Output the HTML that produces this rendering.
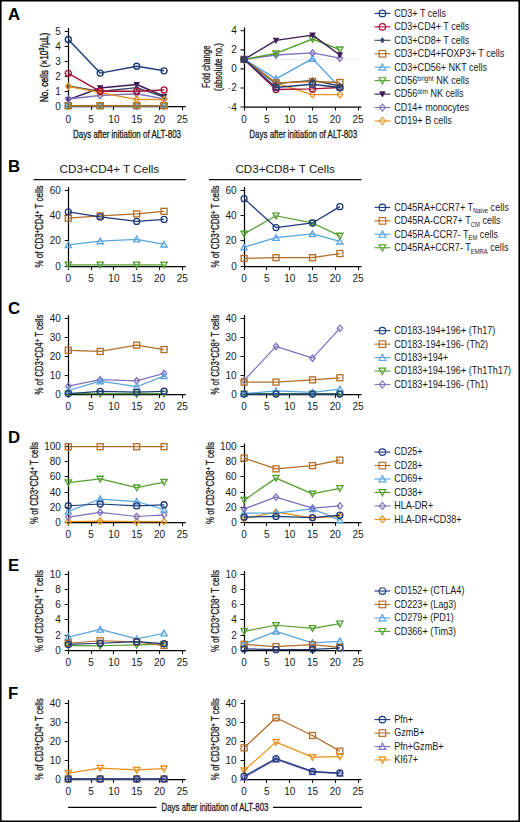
<!DOCTYPE html><html><head><meta charset="utf-8"><style>html,body{margin:0;padding:0;background:#fff;}svg{display:block;}</style></head><body>
<svg width="520" height="822" viewBox="0 0 520 822" font-family='"Liberation Sans", sans-serif'>
<rect width="520" height="822" fill="#fff"/>
<path d="M0 0H520V1.5H0ZM0 0H1.6V822H0ZM518.4 0H520V822H518.4ZM0 820.5H520V822H0Z" fill="#000"/>
<text x="8.00" y="20.40" font-size="16.8" font-weight="bold" fill="#000">A</text>
<text x="8.00" y="171.50" font-size="16.8" font-weight="bold" fill="#000">B</text>
<text x="8.00" y="314.20" font-size="16.8" font-weight="bold" fill="#000">C</text>
<text x="8.00" y="442.50" font-size="16.8" font-weight="bold" fill="#000">D</text>
<text x="8.00" y="570.80" font-size="16.8" font-weight="bold" fill="#000">E</text>
<text x="8.00" y="699.10" font-size="16.8" font-weight="bold" fill="#000">F</text>
<path d="M68.50 28.00V106.50H185.70" fill="none" stroke="#000" stroke-width="1.25"/>
<text x="60.90" y="110.00" font-size="10" text-anchor="end" fill="#1a1a1a">0</text>
<text x="60.90" y="94.94" font-size="10" text-anchor="end" fill="#1a1a1a">1</text>
<text x="60.90" y="79.88" font-size="10" text-anchor="end" fill="#1a1a1a">2</text>
<text x="60.90" y="64.82" font-size="10" text-anchor="end" fill="#1a1a1a">3</text>
<text x="60.90" y="49.76" font-size="10" text-anchor="end" fill="#1a1a1a">4</text>
<text x="60.90" y="34.70" font-size="10" text-anchor="end" fill="#1a1a1a">5</text>
<text x="68.30" y="122.50" font-size="10" text-anchor="middle" fill="#1a1a1a">0</text>
<text x="91.10" y="122.50" font-size="10" text-anchor="middle" fill="#1a1a1a">5</text>
<text x="113.90" y="122.50" font-size="10" text-anchor="middle" fill="#1a1a1a">10</text>
<text x="136.70" y="122.50" font-size="10" text-anchor="middle" fill="#1a1a1a">15</text>
<text x="159.50" y="122.50" font-size="10" text-anchor="middle" fill="#1a1a1a">20</text>
<text x="182.30" y="122.50" font-size="10" text-anchor="middle" fill="#1a1a1a">25</text>
<path d="M64.70 106.50H68.50M64.70 91.50H68.50M64.70 76.50H68.50M64.70 61.50H68.50M64.70 46.50H68.50M64.70 31.50H68.50M68.50 106.50V110.10M91.50 106.50V110.10M113.50 106.50V110.10M136.50 106.50V110.10M159.50 106.50V110.10M182.50 106.50V110.10" fill="none" stroke="#111" stroke-width="1.1"/>
<path d="M68.30 105.75L100.22 105.75L136.70 105.75L164.06 105.75" fill="none" stroke="#52a02e" stroke-width="1.4" stroke-linejoin="round"/>
<path d="M68.30 108.85L71.45 103.11L65.15 103.11Z" fill="none" stroke="#52a02e" stroke-width="1.35"/>
<path d="M100.22 108.85L103.37 103.11L97.07 103.11Z" fill="none" stroke="#52a02e" stroke-width="1.35"/>
<path d="M136.70 108.85L139.85 103.11L133.55 103.11Z" fill="none" stroke="#52a02e" stroke-width="1.35"/>
<path d="M164.06 108.85L167.21 103.11L160.91 103.11Z" fill="none" stroke="#52a02e" stroke-width="1.35"/>
<path d="M68.30 105.75L100.22 105.75L136.70 105.75L164.06 105.75" fill="none" stroke="#58a4e0" stroke-width="1.4" stroke-linejoin="round"/>
<path d="M68.30 102.65L71.45 108.38L65.15 108.38Z" fill="none" stroke="#58a4e0" stroke-width="1.35" stroke-linejoin="miter"/>
<path d="M100.22 102.65L103.37 108.38L97.07 108.38Z" fill="none" stroke="#58a4e0" stroke-width="1.35" stroke-linejoin="miter"/>
<path d="M136.70 102.65L139.85 108.38L133.55 108.38Z" fill="none" stroke="#58a4e0" stroke-width="1.35" stroke-linejoin="miter"/>
<path d="M164.06 102.65L167.21 108.38L160.91 108.38Z" fill="none" stroke="#58a4e0" stroke-width="1.35" stroke-linejoin="miter"/>
<path d="M68.30 105.75L100.22 105.75L136.70 105.75L164.06 105.75" fill="none" stroke="#b36d26" stroke-width="1.4" stroke-linejoin="round"/>
<rect x="65.30" y="102.75" width="6.00" height="6.00" fill="none" stroke="#b36d26" stroke-width="1.35"/>
<rect x="97.22" y="102.75" width="6.00" height="6.00" fill="none" stroke="#b36d26" stroke-width="1.35"/>
<rect x="133.70" y="102.75" width="6.00" height="6.00" fill="none" stroke="#b36d26" stroke-width="1.35"/>
<rect x="161.06" y="102.75" width="6.00" height="6.00" fill="none" stroke="#b36d26" stroke-width="1.35"/>
<path d="M68.30 99.57L100.22 87.98L136.70 84.51L164.06 96.26" fill="none" stroke="#3f1858" stroke-width="1.4" stroke-linejoin="round"/>
<path d="M68.30 102.17L70.70 97.49L65.90 97.49Z" fill="#3f1858" stroke="#3f1858" stroke-width="1.08"/>
<path d="M100.22 90.58L102.62 85.90L97.82 85.90Z" fill="#3f1858" stroke="#3f1858" stroke-width="1.08"/>
<path d="M136.70 87.11L139.10 82.43L134.30 82.43Z" fill="#3f1858" stroke="#3f1858" stroke-width="1.08"/>
<path d="M164.06 98.86L166.46 94.18L161.66 94.18Z" fill="#3f1858" stroke="#3f1858" stroke-width="1.08"/>
<path d="M68.30 98.97L100.22 95.51L136.70 93.70L164.06 98.82" fill="none" stroke="#7f72bf" stroke-width="1.4" stroke-linejoin="round"/>
<path d="M68.30 95.77L71.00 98.97L68.30 102.17L65.60 98.97Z" fill="none" stroke="#7f72bf" stroke-width="1.35"/>
<path d="M100.22 92.31L102.92 95.51L100.22 98.71L97.52 95.51Z" fill="none" stroke="#7f72bf" stroke-width="1.35"/>
<path d="M136.70 90.50L139.40 93.70L136.70 96.90L134.00 93.70Z" fill="none" stroke="#7f72bf" stroke-width="1.35"/>
<path d="M164.06 95.62L166.76 98.82L164.06 102.02L161.36 98.82Z" fill="none" stroke="#7f72bf" stroke-width="1.35"/>
<path d="M68.30 86.02L100.22 91.44L136.70 87.67L164.06 97.16" fill="none" stroke="#36445f" stroke-width="1.4" stroke-linejoin="round"/>
<path d="M68.30 83.62L70.00 86.02L68.30 88.42L66.60 86.02Z" fill="#36445f" stroke="#36445f" stroke-width="1.08"/>
<path d="M100.22 89.04L101.92 91.44L100.22 93.84L98.52 91.44Z" fill="#36445f" stroke="#36445f" stroke-width="1.08"/>
<path d="M136.70 85.27L138.40 87.67L136.70 90.08L135.00 87.67Z" fill="#36445f" stroke="#36445f" stroke-width="1.08"/>
<path d="M164.06 94.76L165.76 97.16L164.06 99.56L162.36 97.16Z" fill="#36445f" stroke="#36445f" stroke-width="1.08"/>
<path d="M68.30 86.32L100.22 92.49L136.70 99.57L164.06 99.57" fill="none" stroke="#e8921a" stroke-width="1.4" stroke-linejoin="round"/>
<path d="M68.30 83.12L71.00 86.32L68.30 89.52L65.60 86.32Z" fill="none" stroke="#e8921a" stroke-width="1.35"/>
<path d="M100.22 89.29L102.92 92.49L100.22 95.69L97.52 92.49Z" fill="none" stroke="#e8921a" stroke-width="1.35"/>
<path d="M136.70 96.37L139.40 99.57L136.70 102.77L134.00 99.57Z" fill="none" stroke="#e8921a" stroke-width="1.35"/>
<path d="M164.06 96.37L166.76 99.57L164.06 102.77L161.36 99.57Z" fill="none" stroke="#e8921a" stroke-width="1.35"/>
<path d="M68.30 73.37L100.22 91.29L136.70 91.29L164.06 89.93" fill="none" stroke="#aa0f36" stroke-width="1.4" stroke-linejoin="round"/>
<circle cx="68.30" cy="73.37" r="3.00" fill="none" stroke="#aa0f36" stroke-width="1.35"/>
<circle cx="100.22" cy="91.29" r="3.00" fill="none" stroke="#aa0f36" stroke-width="1.35"/>
<circle cx="136.70" cy="91.29" r="3.00" fill="none" stroke="#aa0f36" stroke-width="1.35"/>
<circle cx="164.06" cy="89.93" r="3.00" fill="none" stroke="#aa0f36" stroke-width="1.35"/>
<path d="M68.30 39.48L100.22 73.07L136.70 66.29L164.06 70.81" fill="none" stroke="#1d3b7c" stroke-width="1.4" stroke-linejoin="round"/>
<circle cx="68.30" cy="39.48" r="3.00" fill="none" stroke="#1d3b7c" stroke-width="1.35"/>
<circle cx="100.22" cy="73.07" r="3.00" fill="none" stroke="#1d3b7c" stroke-width="1.35"/>
<circle cx="136.70" cy="66.29" r="3.00" fill="none" stroke="#1d3b7c" stroke-width="1.35"/>
<circle cx="164.06" cy="70.81" r="3.00" fill="none" stroke="#1d3b7c" stroke-width="1.35"/>
<text transform="translate(48.10,67.50) rotate(-90) scale(0.7831,1)" x="0" y="0" font-size="10.8" text-anchor="middle" stroke="#1a1a1a" stroke-width="0.45" fill="#1a1a1a">No. cells (×10<tspan dy="-3.8" font-size="7">3</tspan><tspan dy="3.8">/µL)</tspan></text>
<text x="73.00" y="138.00" font-size="11.2" textLength="108" lengthAdjust="spacingAndGlyphs" fill="#1a1a1a" stroke="#1a1a1a" stroke-width="0.3">Days after initiation of ALT-803</text>
<path d="M250 59.5H359" stroke="#c8c8c8" stroke-width="0.9" stroke-dasharray="0.9 1.6"/>
<path d="M244.50 27.60V107.00H361.50" fill="none" stroke="#000" stroke-width="1.25"/>
<text x="236.70" y="110.50" font-size="10" text-anchor="end" fill="#1a1a1a"><tspan font-size="7" dy="-1.3">-</tspan><tspan dx="0.5" dy="1.3">4</tspan></text>
<text x="236.70" y="91.45" font-size="10" text-anchor="end" fill="#1a1a1a"><tspan font-size="7" dy="-1.3">-</tspan><tspan dx="0.5" dy="1.3">2</tspan></text>
<text x="236.70" y="72.40" font-size="10" text-anchor="end" fill="#1a1a1a">0</text>
<text x="236.70" y="53.35" font-size="10" text-anchor="end" fill="#1a1a1a">2</text>
<text x="236.70" y="34.30" font-size="10" text-anchor="end" fill="#1a1a1a">4</text>
<text x="244.10" y="123.00" font-size="10" text-anchor="middle" fill="#1a1a1a">0</text>
<text x="266.90" y="123.00" font-size="10" text-anchor="middle" fill="#1a1a1a">5</text>
<text x="289.70" y="123.00" font-size="10" text-anchor="middle" fill="#1a1a1a">10</text>
<text x="312.50" y="123.00" font-size="10" text-anchor="middle" fill="#1a1a1a">15</text>
<text x="335.30" y="123.00" font-size="10" text-anchor="middle" fill="#1a1a1a">20</text>
<text x="358.10" y="123.00" font-size="10" text-anchor="middle" fill="#1a1a1a">25</text>
<path d="M240.50 107.00H244.50M240.50 87.95H244.50M240.50 68.90H244.50M240.50 49.85H244.50M240.50 30.80H244.50M244.50 107.00V110.60M266.50 107.00V110.60M289.50 107.00V110.60M312.50 107.00V110.60M335.50 107.00V110.60M358.50 107.00V110.60" fill="none" stroke="#111" stroke-width="1.1"/>
<path d="M244.10 59.38L276.02 83.19L312.50 94.62L339.86 94.62" fill="none" stroke="#e8921a" stroke-width="1.4" stroke-linejoin="round"/>
<path d="M244.10 56.17L246.80 59.38L244.10 62.58L241.40 59.38Z" fill="none" stroke="#e8921a" stroke-width="1.35"/>
<path d="M276.02 79.99L278.72 83.19L276.02 86.39L273.32 83.19Z" fill="none" stroke="#e8921a" stroke-width="1.35"/>
<path d="M312.50 91.42L315.20 94.62L312.50 97.82L309.80 94.62Z" fill="none" stroke="#e8921a" stroke-width="1.35"/>
<path d="M339.86 91.42L342.56 94.62L339.86 97.82L337.16 94.62Z" fill="none" stroke="#e8921a" stroke-width="1.35"/>
<path d="M244.10 59.38L276.02 78.90L312.50 58.61L339.86 87.47" fill="none" stroke="#58a4e0" stroke-width="1.4" stroke-linejoin="round"/>
<path d="M244.10 56.27L247.25 62.01L240.95 62.01Z" fill="none" stroke="#58a4e0" stroke-width="1.35" stroke-linejoin="miter"/>
<path d="M276.02 75.80L279.17 81.54L272.87 81.54Z" fill="none" stroke="#58a4e0" stroke-width="1.35" stroke-linejoin="miter"/>
<path d="M312.50 55.51L315.65 61.25L309.35 61.25Z" fill="none" stroke="#58a4e0" stroke-width="1.35" stroke-linejoin="miter"/>
<path d="M339.86 84.37L343.01 90.11L336.71 90.11Z" fill="none" stroke="#58a4e0" stroke-width="1.35" stroke-linejoin="miter"/>
<path d="M244.10 59.38L276.02 54.99L312.50 52.90L339.86 58.14" fill="none" stroke="#7f72bf" stroke-width="1.4" stroke-linejoin="round"/>
<path d="M244.10 56.17L246.80 59.38L244.10 62.58L241.40 59.38Z" fill="none" stroke="#7f72bf" stroke-width="1.35"/>
<path d="M276.02 51.79L278.72 54.99L276.02 58.19L273.32 54.99Z" fill="none" stroke="#7f72bf" stroke-width="1.35"/>
<path d="M312.50 49.70L315.20 52.90L312.50 56.10L309.80 52.90Z" fill="none" stroke="#7f72bf" stroke-width="1.35"/>
<path d="M339.86 54.94L342.56 58.14L339.86 61.34L337.16 58.14Z" fill="none" stroke="#7f72bf" stroke-width="1.35"/>
<path d="M244.10 59.38L276.02 53.47L312.50 38.99L339.86 49.66" fill="none" stroke="#52a02e" stroke-width="1.4" stroke-linejoin="round"/>
<path d="M244.10 62.48L247.25 56.74L240.95 56.74Z" fill="none" stroke="#52a02e" stroke-width="1.35"/>
<path d="M276.02 56.57L279.17 50.83L272.87 50.83Z" fill="none" stroke="#52a02e" stroke-width="1.35"/>
<path d="M312.50 42.09L315.65 36.36L309.35 36.36Z" fill="none" stroke="#52a02e" stroke-width="1.35"/>
<path d="M339.86 52.76L343.01 47.02L336.71 47.02Z" fill="none" stroke="#52a02e" stroke-width="1.35"/>
<path d="M244.10 59.38L276.02 40.33L312.50 35.09L339.86 54.99" fill="none" stroke="#3f1858" stroke-width="1.4" stroke-linejoin="round"/>
<path d="M244.10 61.98L246.50 57.30L241.70 57.30Z" fill="#3f1858" stroke="#3f1858" stroke-width="1.08"/>
<path d="M276.02 42.93L278.42 38.25L273.62 38.25Z" fill="#3f1858" stroke="#3f1858" stroke-width="1.08"/>
<path d="M312.50 37.69L314.90 33.01L310.10 33.01Z" fill="#3f1858" stroke="#3f1858" stroke-width="1.08"/>
<path d="M339.86 57.59L342.26 52.91L337.46 52.91Z" fill="#3f1858" stroke="#3f1858" stroke-width="1.08"/>
<path d="M244.10 59.38L276.02 83.66L312.50 80.33L339.86 86.05" fill="none" stroke="#36445f" stroke-width="1.4" stroke-linejoin="round"/>
<path d="M244.10 56.98L245.80 59.38L244.10 61.77L242.40 59.38Z" fill="#36445f" stroke="#36445f" stroke-width="1.08"/>
<path d="M276.02 81.26L277.72 83.66L276.02 86.06L274.32 83.66Z" fill="#36445f" stroke="#36445f" stroke-width="1.08"/>
<path d="M312.50 77.93L314.20 80.33L312.50 82.73L310.80 80.33Z" fill="#36445f" stroke="#36445f" stroke-width="1.08"/>
<path d="M339.86 83.64L341.56 86.05L339.86 88.45L338.16 86.05Z" fill="#36445f" stroke="#36445f" stroke-width="1.08"/>
<path d="M244.10 59.38L276.02 89.57L312.50 88.90L339.86 87.47" fill="none" stroke="#aa0f36" stroke-width="1.4" stroke-linejoin="round"/>
<circle cx="244.10" cy="59.38" r="3.00" fill="none" stroke="#aa0f36" stroke-width="1.35"/>
<circle cx="276.02" cy="89.57" r="3.00" fill="none" stroke="#aa0f36" stroke-width="1.35"/>
<circle cx="312.50" cy="88.90" r="3.00" fill="none" stroke="#aa0f36" stroke-width="1.35"/>
<circle cx="339.86" cy="87.47" r="3.00" fill="none" stroke="#aa0f36" stroke-width="1.35"/>
<path d="M244.10 59.38L276.02 82.90L312.50 81.47L339.86 82.52" fill="none" stroke="#b36d26" stroke-width="1.4" stroke-linejoin="round"/>
<rect x="241.10" y="56.38" width="6.00" height="6.00" fill="none" stroke="#b36d26" stroke-width="1.35"/>
<rect x="273.02" y="79.90" width="6.00" height="6.00" fill="none" stroke="#b36d26" stroke-width="1.35"/>
<rect x="309.50" y="78.47" width="6.00" height="6.00" fill="none" stroke="#b36d26" stroke-width="1.35"/>
<rect x="336.86" y="79.52" width="6.00" height="6.00" fill="none" stroke="#b36d26" stroke-width="1.35"/>
<path d="M244.10 59.38L276.02 87.47L312.50 84.24L339.86 87.47" fill="none" stroke="#1d3b7c" stroke-width="1.4" stroke-linejoin="round"/>
<circle cx="244.10" cy="59.38" r="3.00" fill="none" stroke="#1d3b7c" stroke-width="1.35"/>
<circle cx="276.02" cy="87.47" r="3.00" fill="none" stroke="#1d3b7c" stroke-width="1.35"/>
<circle cx="312.50" cy="84.24" r="3.00" fill="none" stroke="#1d3b7c" stroke-width="1.35"/>
<circle cx="339.86" cy="87.47" r="3.00" fill="none" stroke="#1d3b7c" stroke-width="1.35"/>
<text transform="translate(210.20,66.80) rotate(-90) scale(0.7319,1)" x="0" y="0" font-size="10.6" text-anchor="middle" stroke="#1a1a1a" stroke-width="0.3" fill="#1a1a1a">Fold change</text>
<text transform="translate(222.20,67.00) rotate(-90) scale(0.7405,1)" x="0" y="0" font-size="10.6" text-anchor="middle" stroke="#1a1a1a" stroke-width="0.3" fill="#1a1a1a">(absolute no.)</text>
<text x="249.30" y="138.00" font-size="11.2" textLength="107.8" lengthAdjust="spacingAndGlyphs" fill="#1a1a1a" stroke="#1a1a1a" stroke-width="0.3">Days after initiation of ALT-803</text>
<path d="M374.5 13.40H390.4" stroke="#1d3b7c" stroke-width="1.1"/>
<circle cx="382.40" cy="13.40" r="3.30" fill="none" stroke="#1d3b7c" stroke-width="1.15"/>
<g transform="translate(394.2,16.75) scale(0.907,1)"><text x="0" y="0" font-size="10" fill="#1a1a1a">CD3+ T cells</text></g>
<path d="M374.5 26.85H390.4" stroke="#aa0f36" stroke-width="1.1"/>
<circle cx="382.40" cy="26.85" r="3.30" fill="none" stroke="#aa0f36" stroke-width="1.15"/>
<g transform="translate(394.2,30.20) scale(0.907,1)"><text x="0" y="0" font-size="10" fill="#1a1a1a">CD3+CD4+ T cells</text></g>
<path d="M374.5 40.30H390.4" stroke="#36445f" stroke-width="1.1"/>
<path d="M382.40 37.66L384.27 40.30L382.40 42.94L380.53 40.30Z" fill="#36445f" stroke="#36445f" stroke-width="0.9199999999999999"/>
<g transform="translate(394.2,43.65) scale(0.907,1)"><text x="0" y="0" font-size="10" fill="#1a1a1a">CD3+CD8+ T cells</text></g>
<path d="M374.5 53.75H390.4" stroke="#b36d26" stroke-width="1.1"/>
<rect x="379.10" y="50.45" width="6.60" height="6.60" fill="none" stroke="#b36d26" stroke-width="1.15"/>
<g transform="translate(394.2,57.10) scale(0.907,1)"><text x="0" y="0" font-size="10" fill="#1a1a1a">CD3+CD4+FOXP3+ T cells</text></g>
<path d="M374.5 67.20H390.4" stroke="#58a4e0" stroke-width="1.1"/>
<path d="M382.40 63.79L385.86 70.10L378.94 70.10Z" fill="none" stroke="#58a4e0" stroke-width="1.15" stroke-linejoin="miter"/>
<g transform="translate(394.2,70.55) scale(0.907,1)"><text x="0" y="0" font-size="10" fill="#1a1a1a">CD3+CD56+ NKT cells</text></g>
<path d="M374.5 80.65H390.4" stroke="#52a02e" stroke-width="1.1"/>
<path d="M382.40 84.06L385.86 77.75L378.94 77.75Z" fill="none" stroke="#52a02e" stroke-width="1.15"/>
<g transform="translate(394.2,84.00) scale(0.907,1)"><text x="0" y="0" font-size="10" fill="#1a1a1a">CD56<tspan dy="-3.4" font-size="7.2">bright</tspan><tspan dy="3.4"> NK cells</tspan></text></g>
<path d="M374.5 94.10H390.4" stroke="#3f1858" stroke-width="1.1"/>
<path d="M382.40 96.96L385.04 91.81L379.76 91.81Z" fill="#3f1858" stroke="#3f1858" stroke-width="0.9199999999999999"/>
<g transform="translate(394.2,97.45) scale(0.907,1)"><text x="0" y="0" font-size="10" fill="#1a1a1a">CD56<tspan dy="-3.4" font-size="7.2">dim</tspan><tspan dy="3.4"> NK cells</tspan></text></g>
<path d="M374.5 107.55H390.4" stroke="#7f72bf" stroke-width="1.1"/>
<path d="M382.40 104.03L385.37 107.55L382.40 111.07L379.43 107.55Z" fill="none" stroke="#7f72bf" stroke-width="1.15"/>
<g transform="translate(394.2,110.90) scale(0.907,1)"><text x="0" y="0" font-size="10" fill="#1a1a1a">CD14+ monocytes</text></g>
<path d="M374.5 121.00H390.4" stroke="#e8921a" stroke-width="1.1"/>
<path d="M382.40 117.48L385.37 121.00L382.40 124.52L379.43 121.00Z" fill="none" stroke="#e8921a" stroke-width="1.15"/>
<g transform="translate(394.2,124.35) scale(0.907,1)"><text x="0" y="0" font-size="10" fill="#1a1a1a">CD19+ B cells</text></g>
<text x="59.50" y="173.00" font-size="11.4" textLength="99.7" lengthAdjust="spacingAndGlyphs" fill="#1a1a1a">CD3+CD4+ T Cells</text>
<path d="M33.4 179.7H185.8" stroke="#111" stroke-width="1.2"/>
<text x="235.40" y="173.00" font-size="11.4" textLength="99.5" lengthAdjust="spacingAndGlyphs" fill="#1a1a1a">CD3+CD8+ T Cells</text>
<path d="M208.9 179.7H361.5" stroke="#111" stroke-width="1.2"/>
<path d="M68.50 187.10V266.50H185.70" fill="none" stroke="#000" stroke-width="1.25"/>
<text x="60.90" y="269.80" font-size="10" text-anchor="end" fill="#1a1a1a">0</text>
<text x="60.90" y="244.47" font-size="10" text-anchor="end" fill="#1a1a1a">20</text>
<text x="60.90" y="219.13" font-size="10" text-anchor="end" fill="#1a1a1a">40</text>
<text x="60.90" y="193.80" font-size="10" text-anchor="end" fill="#1a1a1a">60</text>
<text x="68.30" y="282.30" font-size="10" text-anchor="middle" fill="#1a1a1a">0</text>
<text x="91.10" y="282.30" font-size="10" text-anchor="middle" fill="#1a1a1a">5</text>
<text x="113.90" y="282.30" font-size="10" text-anchor="middle" fill="#1a1a1a">10</text>
<text x="136.70" y="282.30" font-size="10" text-anchor="middle" fill="#1a1a1a">15</text>
<text x="159.50" y="282.30" font-size="10" text-anchor="middle" fill="#1a1a1a">20</text>
<text x="182.30" y="282.30" font-size="10" text-anchor="middle" fill="#1a1a1a">25</text>
<path d="M64.70 266.50H68.50M64.70 240.50H68.50M64.70 215.50H68.50M64.70 190.50H68.50M68.50 266.50V270.10M91.50 266.50V270.10M113.50 266.50V270.10M136.50 266.50V270.10M159.50 266.50V270.10M182.50 266.50V270.10" fill="none" stroke="#111" stroke-width="1.1"/>
<path d="M68.30 264.78L100.22 264.78L136.70 264.78L164.06 264.78" fill="none" stroke="#52a02e" stroke-width="1.25" stroke-linejoin="round"/>
<path d="M68.30 267.88L71.45 262.15L65.15 262.15Z" fill="none" stroke="#52a02e" stroke-width="1.3"/>
<path d="M100.22 267.88L103.37 262.15L97.07 262.15Z" fill="none" stroke="#52a02e" stroke-width="1.3"/>
<path d="M136.70 267.88L139.85 262.15L133.55 262.15Z" fill="none" stroke="#52a02e" stroke-width="1.3"/>
<path d="M164.06 267.88L167.21 262.15L160.91 262.15Z" fill="none" stroke="#52a02e" stroke-width="1.3"/>
<path d="M68.30 244.89L100.22 241.09L136.70 239.32L164.06 244.39" fill="none" stroke="#58a4e0" stroke-width="1.25" stroke-linejoin="round"/>
<path d="M68.30 241.79L71.45 247.53L65.15 247.53Z" fill="none" stroke="#58a4e0" stroke-width="1.3" stroke-linejoin="miter"/>
<path d="M100.22 237.99L103.37 243.73L97.07 243.73Z" fill="none" stroke="#58a4e0" stroke-width="1.3" stroke-linejoin="miter"/>
<path d="M136.70 236.22L139.85 241.96L133.55 241.96Z" fill="none" stroke="#58a4e0" stroke-width="1.3" stroke-linejoin="miter"/>
<path d="M164.06 241.29L167.21 247.02L160.91 247.02Z" fill="none" stroke="#58a4e0" stroke-width="1.3" stroke-linejoin="miter"/>
<path d="M68.30 218.17L100.22 215.89L136.70 213.86L164.06 211.33" fill="none" stroke="#b36d26" stroke-width="1.25" stroke-linejoin="round"/>
<rect x="65.30" y="215.17" width="6.00" height="6.00" fill="none" stroke="#b36d26" stroke-width="1.3"/>
<rect x="97.22" y="212.89" width="6.00" height="6.00" fill="none" stroke="#b36d26" stroke-width="1.3"/>
<rect x="133.70" y="210.86" width="6.00" height="6.00" fill="none" stroke="#b36d26" stroke-width="1.3"/>
<rect x="161.06" y="208.33" width="6.00" height="6.00" fill="none" stroke="#b36d26" stroke-width="1.3"/>
<path d="M68.30 211.83L100.22 216.90L136.70 221.46L164.06 219.43" fill="none" stroke="#1d3b7c" stroke-width="1.25" stroke-linejoin="round"/>
<circle cx="68.30" cy="211.83" r="3.00" fill="none" stroke="#1d3b7c" stroke-width="1.3"/>
<circle cx="100.22" cy="216.90" r="3.00" fill="none" stroke="#1d3b7c" stroke-width="1.3"/>
<circle cx="136.70" cy="221.46" r="3.00" fill="none" stroke="#1d3b7c" stroke-width="1.3"/>
<circle cx="164.06" cy="219.43" r="3.00" fill="none" stroke="#1d3b7c" stroke-width="1.3"/>
<text transform="translate(43.20,226.50) rotate(-90) scale(0.7516,1)" x="0" y="0" font-size="10.6" text-anchor="middle" stroke="#1a1a1a" stroke-width="0.3" fill="#1a1a1a">% of CD3<tspan dy="-3.6" font-size="8">+</tspan><tspan dy="3.6">CD4</tspan><tspan dy="-3.6" font-size="8">+</tspan><tspan dy="3.6"> T cells</tspan></text>
<path d="M244.50 187.10V266.50H361.50" fill="none" stroke="#000" stroke-width="1.25"/>
<text x="236.70" y="269.80" font-size="10" text-anchor="end" fill="#1a1a1a">0</text>
<text x="236.70" y="244.47" font-size="10" text-anchor="end" fill="#1a1a1a">20</text>
<text x="236.70" y="219.13" font-size="10" text-anchor="end" fill="#1a1a1a">40</text>
<text x="236.70" y="193.80" font-size="10" text-anchor="end" fill="#1a1a1a">60</text>
<text x="244.10" y="282.30" font-size="10" text-anchor="middle" fill="#1a1a1a">0</text>
<text x="266.90" y="282.30" font-size="10" text-anchor="middle" fill="#1a1a1a">5</text>
<text x="289.70" y="282.30" font-size="10" text-anchor="middle" fill="#1a1a1a">10</text>
<text x="312.50" y="282.30" font-size="10" text-anchor="middle" fill="#1a1a1a">15</text>
<text x="335.30" y="282.30" font-size="10" text-anchor="middle" fill="#1a1a1a">20</text>
<text x="358.10" y="282.30" font-size="10" text-anchor="middle" fill="#1a1a1a">25</text>
<path d="M240.50 266.50H244.50M240.50 240.50H244.50M240.50 215.50H244.50M240.50 190.50H244.50M244.50 266.50V270.10M266.50 266.50V270.10M289.50 266.50V270.10M312.50 266.50V270.10M335.50 266.50V270.10M358.50 266.50V270.10" fill="none" stroke="#111" stroke-width="1.1"/>
<path d="M244.10 258.45L276.02 257.69L312.50 257.69L339.86 253.51" fill="none" stroke="#b36d26" stroke-width="1.25" stroke-linejoin="round"/>
<rect x="241.10" y="255.45" width="6.00" height="6.00" fill="none" stroke="#b36d26" stroke-width="1.3"/>
<rect x="273.02" y="254.69" width="6.00" height="6.00" fill="none" stroke="#b36d26" stroke-width="1.3"/>
<rect x="309.50" y="254.69" width="6.00" height="6.00" fill="none" stroke="#b36d26" stroke-width="1.3"/>
<rect x="336.86" y="250.51" width="6.00" height="6.00" fill="none" stroke="#b36d26" stroke-width="1.3"/>
<path d="M244.10 247.17L276.02 237.67L312.50 233.87L339.86 241.35" fill="none" stroke="#58a4e0" stroke-width="1.25" stroke-linejoin="round"/>
<path d="M244.10 244.07L247.25 249.81L240.95 249.81Z" fill="none" stroke="#58a4e0" stroke-width="1.3" stroke-linejoin="miter"/>
<path d="M276.02 234.57L279.17 240.31L272.87 240.31Z" fill="none" stroke="#58a4e0" stroke-width="1.3" stroke-linejoin="miter"/>
<path d="M312.50 230.77L315.65 236.51L309.35 236.51Z" fill="none" stroke="#58a4e0" stroke-width="1.3" stroke-linejoin="miter"/>
<path d="M339.86 238.25L343.01 243.98L336.71 243.98Z" fill="none" stroke="#58a4e0" stroke-width="1.3" stroke-linejoin="miter"/>
<path d="M244.10 233.87L276.02 215.76L312.50 222.98L339.86 235.90" fill="none" stroke="#52a02e" stroke-width="1.25" stroke-linejoin="round"/>
<path d="M244.10 236.97L247.25 231.24L240.95 231.24Z" fill="none" stroke="#52a02e" stroke-width="1.3"/>
<path d="M276.02 218.86L279.17 213.13L272.87 213.13Z" fill="none" stroke="#52a02e" stroke-width="1.3"/>
<path d="M312.50 226.08L315.65 220.35L309.35 220.35Z" fill="none" stroke="#52a02e" stroke-width="1.3"/>
<path d="M339.86 239.00L343.01 233.27L336.71 233.27Z" fill="none" stroke="#52a02e" stroke-width="1.3"/>
<path d="M244.10 198.66L276.02 227.54L312.50 222.98L339.86 206.64" fill="none" stroke="#1d3b7c" stroke-width="1.25" stroke-linejoin="round"/>
<circle cx="244.10" cy="198.66" r="3.00" fill="none" stroke="#1d3b7c" stroke-width="1.3"/>
<circle cx="276.02" cy="227.54" r="3.00" fill="none" stroke="#1d3b7c" stroke-width="1.3"/>
<circle cx="312.50" cy="222.98" r="3.00" fill="none" stroke="#1d3b7c" stroke-width="1.3"/>
<circle cx="339.86" cy="206.64" r="3.00" fill="none" stroke="#1d3b7c" stroke-width="1.3"/>
<text transform="translate(219.20,226.50) rotate(-90) scale(0.7516,1)" x="0" y="0" font-size="10.6" text-anchor="middle" stroke="#1a1a1a" stroke-width="0.3" fill="#1a1a1a">% of CD3<tspan dy="-3.6" font-size="8">+</tspan><tspan dy="3.6">CD8</tspan><tspan dy="-3.6" font-size="8">+</tspan><tspan dy="3.6"> T cells</tspan></text>
<path d="M374.5 207.40H390.4" stroke="#1d3b7c" stroke-width="1.1"/>
<circle cx="382.40" cy="207.40" r="3.30" fill="none" stroke="#1d3b7c" stroke-width="1.15"/>
<g transform="translate(394.2,210.75) scale(0.907,1)"><text x="0" y="0" font-size="10" fill="#1a1a1a">CD45RA+CCR7+ T<tspan dy="2.5" font-size="6.5">Naive</tspan><tspan dy="-2.5"> cells</tspan></text></g>
<path d="M374.5 220.85H390.4" stroke="#b36d26" stroke-width="1.1"/>
<rect x="379.10" y="217.55" width="6.60" height="6.60" fill="none" stroke="#b36d26" stroke-width="1.15"/>
<g transform="translate(394.2,224.20) scale(0.907,1)"><text x="0" y="0" font-size="10" fill="#1a1a1a">CD45RA-CCR7+ T<tspan dy="2.5" font-size="6.5">CM</tspan><tspan dy="-2.5"> cells</tspan></text></g>
<path d="M374.5 234.30H390.4" stroke="#58a4e0" stroke-width="1.1"/>
<path d="M382.40 230.89L385.86 237.20L378.94 237.20Z" fill="none" stroke="#58a4e0" stroke-width="1.15" stroke-linejoin="miter"/>
<g transform="translate(394.2,237.65) scale(0.907,1)"><text x="0" y="0" font-size="10" fill="#1a1a1a">CD45RA-CCR7- T<tspan dy="2.5" font-size="6.5">EM</tspan><tspan dy="-2.5"> cells</tspan></text></g>
<path d="M374.5 247.75H390.4" stroke="#52a02e" stroke-width="1.1"/>
<path d="M382.40 251.16L385.86 244.85L378.94 244.85Z" fill="none" stroke="#52a02e" stroke-width="1.15"/>
<g transform="translate(394.2,251.10) scale(0.907,1)"><text x="0" y="0" font-size="10" fill="#1a1a1a">CD45RA+CCR7- T<tspan dy="2.5" font-size="6.5">EMRA</tspan><tspan dy="-2.5"> cells</tspan></text></g>
<path d="M68.50 315.20V394.50H185.70" fill="none" stroke="#000" stroke-width="1.25"/>
<text x="60.90" y="397.80" font-size="10" text-anchor="end" fill="#1a1a1a">0</text>
<text x="60.90" y="378.82" font-size="10" text-anchor="end" fill="#1a1a1a">10</text>
<text x="60.90" y="359.85" font-size="10" text-anchor="end" fill="#1a1a1a">20</text>
<text x="60.90" y="340.88" font-size="10" text-anchor="end" fill="#1a1a1a">30</text>
<text x="60.90" y="321.90" font-size="10" text-anchor="end" fill="#1a1a1a">40</text>
<text x="68.30" y="410.30" font-size="10" text-anchor="middle" fill="#1a1a1a">0</text>
<text x="91.10" y="410.30" font-size="10" text-anchor="middle" fill="#1a1a1a">5</text>
<text x="113.90" y="410.30" font-size="10" text-anchor="middle" fill="#1a1a1a">10</text>
<text x="136.70" y="410.30" font-size="10" text-anchor="middle" fill="#1a1a1a">15</text>
<text x="159.50" y="410.30" font-size="10" text-anchor="middle" fill="#1a1a1a">20</text>
<text x="182.30" y="410.30" font-size="10" text-anchor="middle" fill="#1a1a1a">25</text>
<path d="M64.70 394.50H68.50M64.70 375.50H68.50M64.70 356.50H68.50M64.70 337.50H68.50M64.70 318.50H68.50M68.50 394.50V398.10M91.50 394.50V398.10M113.50 394.50V398.10M136.50 394.50V398.10M159.50 394.50V398.10M182.50 394.50V398.10" fill="none" stroke="#111" stroke-width="1.1"/>
<path d="M68.30 393.73L100.22 393.73L136.70 393.73L164.06 393.73" fill="none" stroke="#52a02e" stroke-width="1.25" stroke-linejoin="round"/>
<path d="M68.30 396.83L71.45 391.10L65.15 391.10Z" fill="none" stroke="#52a02e" stroke-width="1.3"/>
<path d="M100.22 396.83L103.37 391.10L97.07 391.10Z" fill="none" stroke="#52a02e" stroke-width="1.3"/>
<path d="M136.70 396.83L139.85 391.10L133.55 391.10Z" fill="none" stroke="#52a02e" stroke-width="1.3"/>
<path d="M164.06 396.83L167.21 391.10L160.91 391.10Z" fill="none" stroke="#52a02e" stroke-width="1.3"/>
<path d="M68.30 386.14L100.22 379.69L136.70 380.83L164.06 373.43" fill="none" stroke="#7f72bf" stroke-width="1.25" stroke-linejoin="round"/>
<path d="M68.30 382.94L71.00 386.14L68.30 389.34L65.60 386.14Z" fill="none" stroke="#7f72bf" stroke-width="1.3"/>
<path d="M100.22 376.49L102.92 379.69L100.22 382.89L97.52 379.69Z" fill="none" stroke="#7f72bf" stroke-width="1.3"/>
<path d="M136.70 377.63L139.40 380.83L136.70 384.03L134.00 380.83Z" fill="none" stroke="#7f72bf" stroke-width="1.3"/>
<path d="M164.06 370.23L166.76 373.43L164.06 376.63L161.36 373.43Z" fill="none" stroke="#7f72bf" stroke-width="1.3"/>
<path d="M68.30 390.50L100.22 381.21L136.70 386.71L164.06 376.08" fill="none" stroke="#58a4e0" stroke-width="1.25" stroke-linejoin="round"/>
<path d="M68.30 387.40L71.45 393.14L65.15 393.14Z" fill="none" stroke="#58a4e0" stroke-width="1.3" stroke-linejoin="miter"/>
<path d="M100.22 378.11L103.37 383.84L97.07 383.84Z" fill="none" stroke="#58a4e0" stroke-width="1.3" stroke-linejoin="miter"/>
<path d="M136.70 383.61L139.85 389.35L133.55 389.35Z" fill="none" stroke="#58a4e0" stroke-width="1.3" stroke-linejoin="miter"/>
<path d="M164.06 372.98L167.21 378.72L160.91 378.72Z" fill="none" stroke="#58a4e0" stroke-width="1.3" stroke-linejoin="miter"/>
<path d="M68.30 350.28L100.22 351.42L136.70 345.15L164.06 349.52" fill="none" stroke="#b36d26" stroke-width="1.25" stroke-linejoin="round"/>
<rect x="65.30" y="347.28" width="6.00" height="6.00" fill="none" stroke="#b36d26" stroke-width="1.3"/>
<rect x="97.22" y="348.42" width="6.00" height="6.00" fill="none" stroke="#b36d26" stroke-width="1.3"/>
<rect x="133.70" y="342.15" width="6.00" height="6.00" fill="none" stroke="#b36d26" stroke-width="1.3"/>
<rect x="161.06" y="346.52" width="6.00" height="6.00" fill="none" stroke="#b36d26" stroke-width="1.3"/>
<path d="M68.30 393.54L100.22 391.45L136.70 392.21L164.06 391.26" fill="none" stroke="#1d3b7c" stroke-width="1.25" stroke-linejoin="round"/>
<circle cx="68.30" cy="393.54" r="3.00" fill="none" stroke="#1d3b7c" stroke-width="1.3"/>
<circle cx="100.22" cy="391.45" r="3.00" fill="none" stroke="#1d3b7c" stroke-width="1.3"/>
<circle cx="136.70" cy="392.21" r="3.00" fill="none" stroke="#1d3b7c" stroke-width="1.3"/>
<circle cx="164.06" cy="391.26" r="3.00" fill="none" stroke="#1d3b7c" stroke-width="1.3"/>
<text transform="translate(43.20,354.50) rotate(-90) scale(0.7333,1)" x="0" y="0" font-size="10.6" text-anchor="middle" stroke="#1a1a1a" stroke-width="0.3" fill="#1a1a1a">% of CD3<tspan dy="-3.6" font-size="8">+</tspan><tspan dy="3.6">CD4</tspan><tspan dy="-3.6" font-size="8">+</tspan><tspan dy="3.6"> T cells</tspan></text>
<path d="M244.50 315.10V394.50H361.50" fill="none" stroke="#000" stroke-width="1.25"/>
<text x="236.70" y="397.80" font-size="10" text-anchor="end" fill="#1a1a1a">0</text>
<text x="236.70" y="378.80" font-size="10" text-anchor="end" fill="#1a1a1a">10</text>
<text x="236.70" y="359.80" font-size="10" text-anchor="end" fill="#1a1a1a">20</text>
<text x="236.70" y="340.80" font-size="10" text-anchor="end" fill="#1a1a1a">30</text>
<text x="236.70" y="321.80" font-size="10" text-anchor="end" fill="#1a1a1a">40</text>
<text x="244.10" y="410.30" font-size="10" text-anchor="middle" fill="#1a1a1a">0</text>
<text x="266.90" y="410.30" font-size="10" text-anchor="middle" fill="#1a1a1a">5</text>
<text x="289.70" y="410.30" font-size="10" text-anchor="middle" fill="#1a1a1a">10</text>
<text x="312.50" y="410.30" font-size="10" text-anchor="middle" fill="#1a1a1a">15</text>
<text x="335.30" y="410.30" font-size="10" text-anchor="middle" fill="#1a1a1a">20</text>
<text x="358.10" y="410.30" font-size="10" text-anchor="middle" fill="#1a1a1a">25</text>
<path d="M240.50 394.50H244.50M240.50 375.50H244.50M240.50 356.50H244.50M240.50 337.50H244.50M240.50 318.50H244.50M244.50 394.50V398.10M266.50 394.50V398.10M289.50 394.50V398.10M312.50 394.50V398.10M335.50 394.50V398.10M358.50 394.50V398.10" fill="none" stroke="#111" stroke-width="1.1"/>
<path d="M244.10 393.73L276.02 393.73L312.50 393.73L339.86 393.73" fill="none" stroke="#52a02e" stroke-width="1.25" stroke-linejoin="round"/>
<path d="M244.10 396.83L247.25 391.10L240.95 391.10Z" fill="none" stroke="#52a02e" stroke-width="1.3"/>
<path d="M276.02 396.83L279.17 391.10L272.87 391.10Z" fill="none" stroke="#52a02e" stroke-width="1.3"/>
<path d="M312.50 396.83L315.65 391.10L309.35 391.10Z" fill="none" stroke="#52a02e" stroke-width="1.3"/>
<path d="M339.86 396.83L343.01 391.10L336.71 391.10Z" fill="none" stroke="#52a02e" stroke-width="1.3"/>
<path d="M244.10 380.43L276.02 346.42L312.50 358.20L339.86 328.37" fill="none" stroke="#7f72bf" stroke-width="1.25" stroke-linejoin="round"/>
<path d="M244.10 377.23L246.80 380.43L244.10 383.63L241.40 380.43Z" fill="none" stroke="#7f72bf" stroke-width="1.3"/>
<path d="M276.02 343.22L278.72 346.42L276.02 349.62L273.32 346.42Z" fill="none" stroke="#7f72bf" stroke-width="1.3"/>
<path d="M312.50 355.00L315.20 358.20L312.50 361.40L309.80 358.20Z" fill="none" stroke="#7f72bf" stroke-width="1.3"/>
<path d="M339.86 325.17L342.56 328.37L339.86 331.57L337.16 328.37Z" fill="none" stroke="#7f72bf" stroke-width="1.3"/>
<path d="M244.10 393.73L276.02 390.88L312.50 392.40L339.86 389.17" fill="none" stroke="#58a4e0" stroke-width="1.25" stroke-linejoin="round"/>
<path d="M244.10 390.63L247.25 396.37L240.95 396.37Z" fill="none" stroke="#58a4e0" stroke-width="1.3" stroke-linejoin="miter"/>
<path d="M276.02 387.78L279.17 393.51L272.87 393.51Z" fill="none" stroke="#58a4e0" stroke-width="1.3" stroke-linejoin="miter"/>
<path d="M312.50 389.30L315.65 395.04L309.35 395.04Z" fill="none" stroke="#58a4e0" stroke-width="1.3" stroke-linejoin="miter"/>
<path d="M339.86 386.07L343.01 391.81L336.71 391.81Z" fill="none" stroke="#58a4e0" stroke-width="1.3" stroke-linejoin="miter"/>
<path d="M244.10 382.14L276.02 382.14L312.50 379.86L339.86 377.77" fill="none" stroke="#b36d26" stroke-width="1.25" stroke-linejoin="round"/>
<rect x="241.10" y="379.14" width="6.00" height="6.00" fill="none" stroke="#b36d26" stroke-width="1.3"/>
<rect x="273.02" y="379.14" width="6.00" height="6.00" fill="none" stroke="#b36d26" stroke-width="1.3"/>
<rect x="309.50" y="376.86" width="6.00" height="6.00" fill="none" stroke="#b36d26" stroke-width="1.3"/>
<rect x="336.86" y="374.77" width="6.00" height="6.00" fill="none" stroke="#b36d26" stroke-width="1.3"/>
<path d="M244.10 394.11L276.02 394.11L312.50 394.11L339.86 394.11" fill="none" stroke="#1d3b7c" stroke-width="1.25" stroke-linejoin="round"/>
<circle cx="244.10" cy="394.11" r="3.00" fill="none" stroke="#1d3b7c" stroke-width="1.3"/>
<circle cx="276.02" cy="394.11" r="3.00" fill="none" stroke="#1d3b7c" stroke-width="1.3"/>
<circle cx="312.50" cy="394.11" r="3.00" fill="none" stroke="#1d3b7c" stroke-width="1.3"/>
<circle cx="339.86" cy="394.11" r="3.00" fill="none" stroke="#1d3b7c" stroke-width="1.3"/>
<text transform="translate(219.20,354.50) rotate(-90) scale(0.7333,1)" x="0" y="0" font-size="10.6" text-anchor="middle" stroke="#1a1a1a" stroke-width="0.3" fill="#1a1a1a">% of CD3<tspan dy="-3.6" font-size="8">+</tspan><tspan dy="3.6">CD8</tspan><tspan dy="-3.6" font-size="8">+</tspan><tspan dy="3.6"> T cells</tspan></text>
<path d="M374.5 330.70H390.4" stroke="#1d3b7c" stroke-width="1.1"/>
<circle cx="382.40" cy="330.70" r="3.30" fill="none" stroke="#1d3b7c" stroke-width="1.15"/>
<g transform="translate(394.2,334.05) scale(0.907,1)"><text x="0" y="0" font-size="10" fill="#1a1a1a">CD183-194+196+ (Th17)</text></g>
<path d="M374.5 344.15H390.4" stroke="#b36d26" stroke-width="1.1"/>
<rect x="379.10" y="340.85" width="6.60" height="6.60" fill="none" stroke="#b36d26" stroke-width="1.15"/>
<g transform="translate(394.2,347.50) scale(0.907,1)"><text x="0" y="0" font-size="10" fill="#1a1a1a">CD183-194+196- (Th2)</text></g>
<path d="M374.5 357.60H390.4" stroke="#58a4e0" stroke-width="1.1"/>
<path d="M382.40 354.19L385.86 360.50L378.94 360.50Z" fill="none" stroke="#58a4e0" stroke-width="1.15" stroke-linejoin="miter"/>
<g transform="translate(394.2,360.95) scale(0.907,1)"><text x="0" y="0" font-size="10" fill="#1a1a1a">CD183+194+</text></g>
<path d="M374.5 371.05H390.4" stroke="#52a02e" stroke-width="1.1"/>
<path d="M382.40 374.46L385.86 368.15L378.94 368.15Z" fill="none" stroke="#52a02e" stroke-width="1.15"/>
<g transform="translate(394.2,374.40) scale(0.907,1)"><text x="0" y="0" font-size="10" fill="#1a1a1a">CD183+194-196+ (Th1Th17)</text></g>
<path d="M374.5 384.50H390.4" stroke="#7f72bf" stroke-width="1.1"/>
<path d="M382.40 380.98L385.37 384.50L382.40 388.02L379.43 384.50Z" fill="none" stroke="#7f72bf" stroke-width="1.15"/>
<g transform="translate(394.2,387.85) scale(0.907,1)"><text x="0" y="0" font-size="10" fill="#1a1a1a">CD183+194-196- (Th1)</text></g>
<path d="M68.50 443.50V522.50H185.70" fill="none" stroke="#000" stroke-width="1.25"/>
<text x="60.90" y="525.90" font-size="10" text-anchor="end" fill="#1a1a1a">0</text>
<text x="60.90" y="510.76" font-size="10" text-anchor="end" fill="#1a1a1a">20</text>
<text x="60.90" y="495.62" font-size="10" text-anchor="end" fill="#1a1a1a">40</text>
<text x="60.90" y="480.48" font-size="10" text-anchor="end" fill="#1a1a1a">60</text>
<text x="60.90" y="465.34" font-size="10" text-anchor="end" fill="#1a1a1a">80</text>
<text x="60.90" y="450.20" font-size="10" text-anchor="end" fill="#1a1a1a">100</text>
<text x="68.30" y="538.40" font-size="10" text-anchor="middle" fill="#1a1a1a">0</text>
<text x="91.10" y="538.40" font-size="10" text-anchor="middle" fill="#1a1a1a">5</text>
<text x="113.90" y="538.40" font-size="10" text-anchor="middle" fill="#1a1a1a">10</text>
<text x="136.70" y="538.40" font-size="10" text-anchor="middle" fill="#1a1a1a">15</text>
<text x="159.50" y="538.40" font-size="10" text-anchor="middle" fill="#1a1a1a">20</text>
<text x="182.30" y="538.40" font-size="10" text-anchor="middle" fill="#1a1a1a">25</text>
<path d="M64.70 522.50H68.50M64.70 507.50H68.50M64.70 492.50H68.50M64.70 476.50H68.50M64.70 461.50H68.50M64.70 446.50H68.50M68.50 522.50V526.10M91.50 522.50V526.10M113.50 522.50V526.10M136.50 522.50V526.10M159.50 522.50V526.10M182.50 522.50V526.10" fill="none" stroke="#111" stroke-width="1.1"/>
<path d="M68.30 521.64L100.22 521.04L136.70 521.64L164.06 521.64" fill="none" stroke="#e8921a" stroke-width="1.25" stroke-linejoin="round"/>
<path d="M68.30 518.44L71.00 521.64L68.30 524.84L65.60 521.64Z" fill="none" stroke="#e8921a" stroke-width="1.3"/>
<path d="M100.22 517.84L102.92 521.04L100.22 524.24L97.52 521.04Z" fill="none" stroke="#e8921a" stroke-width="1.3"/>
<path d="M136.70 518.44L139.40 521.64L136.70 524.84L134.00 521.64Z" fill="none" stroke="#e8921a" stroke-width="1.3"/>
<path d="M164.06 518.44L166.76 521.64L164.06 524.84L161.36 521.64Z" fill="none" stroke="#e8921a" stroke-width="1.3"/>
<path d="M68.30 517.03L100.22 512.26L136.70 516.50L164.06 514.83" fill="none" stroke="#7f72bf" stroke-width="1.25" stroke-linejoin="round"/>
<path d="M68.30 513.83L71.00 517.03L68.30 520.23L65.60 517.03Z" fill="none" stroke="#7f72bf" stroke-width="1.3"/>
<path d="M100.22 509.06L102.92 512.26L100.22 515.46L97.52 512.26Z" fill="none" stroke="#7f72bf" stroke-width="1.3"/>
<path d="M136.70 513.30L139.40 516.50L136.70 519.70L134.00 516.50Z" fill="none" stroke="#7f72bf" stroke-width="1.3"/>
<path d="M164.06 511.63L166.76 514.83L164.06 518.03L161.36 514.83Z" fill="none" stroke="#7f72bf" stroke-width="1.3"/>
<path d="M68.30 511.50L100.22 499.01L136.70 501.51L164.06 509.53" fill="none" stroke="#58a4e0" stroke-width="1.25" stroke-linejoin="round"/>
<path d="M68.30 508.40L71.45 514.13L65.15 514.13Z" fill="none" stroke="#58a4e0" stroke-width="1.3" stroke-linejoin="miter"/>
<path d="M100.22 495.91L103.37 501.64L97.07 501.64Z" fill="none" stroke="#58a4e0" stroke-width="1.3" stroke-linejoin="miter"/>
<path d="M136.70 498.41L139.85 504.14L133.55 504.14Z" fill="none" stroke="#58a4e0" stroke-width="1.3" stroke-linejoin="miter"/>
<path d="M164.06 506.43L167.21 512.17L160.91 512.17Z" fill="none" stroke="#58a4e0" stroke-width="1.3" stroke-linejoin="miter"/>
<path d="M68.30 505.75L100.22 504.00L136.70 505.97L164.06 504.76" fill="none" stroke="#1d3b7c" stroke-width="1.25" stroke-linejoin="round"/>
<circle cx="68.30" cy="505.75" r="3.00" fill="none" stroke="#1d3b7c" stroke-width="1.3"/>
<circle cx="100.22" cy="504.00" r="3.00" fill="none" stroke="#1d3b7c" stroke-width="1.3"/>
<circle cx="136.70" cy="505.97" r="3.00" fill="none" stroke="#1d3b7c" stroke-width="1.3"/>
<circle cx="164.06" cy="504.76" r="3.00" fill="none" stroke="#1d3b7c" stroke-width="1.3"/>
<path d="M68.30 482.66L100.22 478.87L136.70 487.65L164.06 482.13" fill="none" stroke="#52a02e" stroke-width="1.25" stroke-linejoin="round"/>
<path d="M68.30 485.76L71.45 480.02L65.15 480.02Z" fill="none" stroke="#52a02e" stroke-width="1.3"/>
<path d="M100.22 481.97L103.37 476.24L97.07 476.24Z" fill="none" stroke="#52a02e" stroke-width="1.3"/>
<path d="M136.70 490.75L139.85 485.02L133.55 485.02Z" fill="none" stroke="#52a02e" stroke-width="1.3"/>
<path d="M164.06 485.23L167.21 479.49L160.91 479.49Z" fill="none" stroke="#52a02e" stroke-width="1.3"/>
<path d="M68.30 446.70L100.22 446.70L136.70 446.70L164.06 446.70" fill="none" stroke="#b36d26" stroke-width="1.25" stroke-linejoin="round"/>
<rect x="65.30" y="443.70" width="6.00" height="6.00" fill="none" stroke="#b36d26" stroke-width="1.3"/>
<rect x="97.22" y="443.70" width="6.00" height="6.00" fill="none" stroke="#b36d26" stroke-width="1.3"/>
<rect x="133.70" y="443.70" width="6.00" height="6.00" fill="none" stroke="#b36d26" stroke-width="1.3"/>
<rect x="161.06" y="443.70" width="6.00" height="6.00" fill="none" stroke="#b36d26" stroke-width="1.3"/>
<text transform="translate(38.30,483.00) rotate(-90) scale(0.7516,1)" x="0" y="0" font-size="10.6" text-anchor="middle" stroke="#1a1a1a" stroke-width="0.3" fill="#1a1a1a">% of CD3<tspan dy="-3.6" font-size="8">+</tspan><tspan dy="3.6">CD4</tspan><tspan dy="-3.6" font-size="8">+</tspan><tspan dy="3.6"> T cells</tspan></text>
<path d="M244.50 443.50V522.50H361.50" fill="none" stroke="#000" stroke-width="1.25"/>
<text x="236.70" y="525.90" font-size="10" text-anchor="end" fill="#1a1a1a">0</text>
<text x="236.70" y="510.76" font-size="10" text-anchor="end" fill="#1a1a1a">20</text>
<text x="236.70" y="495.62" font-size="10" text-anchor="end" fill="#1a1a1a">40</text>
<text x="236.70" y="480.48" font-size="10" text-anchor="end" fill="#1a1a1a">60</text>
<text x="236.70" y="465.34" font-size="10" text-anchor="end" fill="#1a1a1a">80</text>
<text x="236.70" y="450.20" font-size="10" text-anchor="end" fill="#1a1a1a">100</text>
<text x="244.10" y="538.40" font-size="10" text-anchor="middle" fill="#1a1a1a">0</text>
<text x="266.90" y="538.40" font-size="10" text-anchor="middle" fill="#1a1a1a">5</text>
<text x="289.70" y="538.40" font-size="10" text-anchor="middle" fill="#1a1a1a">10</text>
<text x="312.50" y="538.40" font-size="10" text-anchor="middle" fill="#1a1a1a">15</text>
<text x="335.30" y="538.40" font-size="10" text-anchor="middle" fill="#1a1a1a">20</text>
<text x="358.10" y="538.40" font-size="10" text-anchor="middle" fill="#1a1a1a">25</text>
<path d="M240.50 522.50H244.50M240.50 507.50H244.50M240.50 492.50H244.50M240.50 476.50H244.50M240.50 461.50H244.50M240.50 446.50H244.50M244.50 522.50V526.10M266.50 522.50V526.10M289.50 522.50V526.10M312.50 522.50V526.10M335.50 522.50V526.10M358.50 522.50V526.10" fill="none" stroke="#111" stroke-width="1.1"/>
<path d="M244.10 518.46L276.02 512.18L312.50 517.86L339.86 516.42" fill="none" stroke="#e8921a" stroke-width="1.25" stroke-linejoin="round"/>
<path d="M244.10 515.26L246.80 518.46L244.10 521.66L241.40 518.46Z" fill="none" stroke="#e8921a" stroke-width="1.3"/>
<path d="M276.02 508.98L278.72 512.18L276.02 515.38L273.32 512.18Z" fill="none" stroke="#e8921a" stroke-width="1.3"/>
<path d="M312.50 514.66L315.20 517.86L312.50 521.06L309.80 517.86Z" fill="none" stroke="#e8921a" stroke-width="1.3"/>
<path d="M339.86 513.22L342.56 516.42L339.86 519.62L337.16 516.42Z" fill="none" stroke="#e8921a" stroke-width="1.3"/>
<path d="M244.10 513.16L276.02 513.16L312.50 508.93L339.86 520.13" fill="none" stroke="#58a4e0" stroke-width="1.25" stroke-linejoin="round"/>
<path d="M244.10 510.06L247.25 515.80L240.95 515.80Z" fill="none" stroke="#58a4e0" stroke-width="1.3" stroke-linejoin="miter"/>
<path d="M276.02 510.06L279.17 515.80L272.87 515.80Z" fill="none" stroke="#58a4e0" stroke-width="1.3" stroke-linejoin="miter"/>
<path d="M312.50 505.83L315.65 511.56L309.35 511.56Z" fill="none" stroke="#58a4e0" stroke-width="1.3" stroke-linejoin="miter"/>
<path d="M339.86 517.03L343.01 522.76L336.71 522.76Z" fill="none" stroke="#58a4e0" stroke-width="1.3" stroke-linejoin="miter"/>
<path d="M244.10 517.18L276.02 516.42L312.50 517.71L339.86 515.21" fill="none" stroke="#1d3b7c" stroke-width="1.25" stroke-linejoin="round"/>
<circle cx="244.10" cy="517.18" r="3.00" fill="none" stroke="#1d3b7c" stroke-width="1.3"/>
<circle cx="276.02" cy="516.42" r="3.00" fill="none" stroke="#1d3b7c" stroke-width="1.3"/>
<circle cx="312.50" cy="517.71" r="3.00" fill="none" stroke="#1d3b7c" stroke-width="1.3"/>
<circle cx="339.86" cy="515.21" r="3.00" fill="none" stroke="#1d3b7c" stroke-width="1.3"/>
<path d="M244.10 508.93L276.02 497.12L312.50 508.17L339.86 505.90" fill="none" stroke="#7f72bf" stroke-width="1.25" stroke-linejoin="round"/>
<path d="M244.10 505.73L246.80 508.93L244.10 512.13L241.40 508.93Z" fill="none" stroke="#7f72bf" stroke-width="1.3"/>
<path d="M276.02 493.92L278.72 497.12L276.02 500.32L273.32 497.12Z" fill="none" stroke="#7f72bf" stroke-width="1.3"/>
<path d="M312.50 504.97L315.20 508.17L312.50 511.37L309.80 508.17Z" fill="none" stroke="#7f72bf" stroke-width="1.3"/>
<path d="M339.86 502.70L342.56 505.90L339.86 509.10L337.16 505.90Z" fill="none" stroke="#7f72bf" stroke-width="1.3"/>
<path d="M244.10 500.14L276.02 478.12L312.50 493.86L339.86 488.33" fill="none" stroke="#52a02e" stroke-width="1.25" stroke-linejoin="round"/>
<path d="M244.10 503.24L247.25 497.51L240.95 497.51Z" fill="none" stroke="#52a02e" stroke-width="1.3"/>
<path d="M276.02 481.22L279.17 475.48L272.87 475.48Z" fill="none" stroke="#52a02e" stroke-width="1.3"/>
<path d="M312.50 496.96L315.65 491.23L309.35 491.23Z" fill="none" stroke="#52a02e" stroke-width="1.3"/>
<path d="M339.86 491.44L343.01 485.70L336.71 485.70Z" fill="none" stroke="#52a02e" stroke-width="1.3"/>
<path d="M244.10 458.06L276.02 468.88L312.50 465.62L339.86 460.10" fill="none" stroke="#b36d26" stroke-width="1.25" stroke-linejoin="round"/>
<rect x="241.10" y="455.06" width="6.00" height="6.00" fill="none" stroke="#b36d26" stroke-width="1.3"/>
<rect x="273.02" y="465.88" width="6.00" height="6.00" fill="none" stroke="#b36d26" stroke-width="1.3"/>
<rect x="309.50" y="462.62" width="6.00" height="6.00" fill="none" stroke="#b36d26" stroke-width="1.3"/>
<rect x="336.86" y="457.10" width="6.00" height="6.00" fill="none" stroke="#b36d26" stroke-width="1.3"/>
<text transform="translate(214.10,483.00) rotate(-90) scale(0.7516,1)" x="0" y="0" font-size="10.6" text-anchor="middle" stroke="#1a1a1a" stroke-width="0.3" fill="#1a1a1a">% of CD3<tspan dy="-3.6" font-size="8">+</tspan><tspan dy="3.6">CD8</tspan><tspan dy="-3.6" font-size="8">+</tspan><tspan dy="3.6"> T cells</tspan></text>
<path d="M374.5 452.10H390.4" stroke="#1d3b7c" stroke-width="1.1"/>
<circle cx="382.40" cy="452.10" r="3.30" fill="none" stroke="#1d3b7c" stroke-width="1.15"/>
<g transform="translate(394.2,455.45) scale(0.907,1)"><text x="0" y="0" font-size="10" fill="#1a1a1a">CD25+</text></g>
<path d="M374.5 465.55H390.4" stroke="#b36d26" stroke-width="1.1"/>
<rect x="379.10" y="462.25" width="6.60" height="6.60" fill="none" stroke="#b36d26" stroke-width="1.15"/>
<g transform="translate(394.2,468.90) scale(0.907,1)"><text x="0" y="0" font-size="10" fill="#1a1a1a">CD28+</text></g>
<path d="M374.5 479.00H390.4" stroke="#58a4e0" stroke-width="1.1"/>
<path d="M382.40 475.59L385.86 481.90L378.94 481.90Z" fill="none" stroke="#58a4e0" stroke-width="1.15" stroke-linejoin="miter"/>
<g transform="translate(394.2,482.35) scale(0.907,1)"><text x="0" y="0" font-size="10" fill="#1a1a1a">CD69+</text></g>
<path d="M374.5 492.45H390.4" stroke="#52a02e" stroke-width="1.1"/>
<path d="M382.40 495.86L385.86 489.55L378.94 489.55Z" fill="none" stroke="#52a02e" stroke-width="1.15"/>
<g transform="translate(394.2,495.80) scale(0.907,1)"><text x="0" y="0" font-size="10" fill="#1a1a1a">CD38+</text></g>
<path d="M374.5 505.90H390.4" stroke="#7f72bf" stroke-width="1.1"/>
<path d="M382.40 502.38L385.37 505.90L382.40 509.42L379.43 505.90Z" fill="none" stroke="#7f72bf" stroke-width="1.15"/>
<g transform="translate(394.2,509.25) scale(0.907,1)"><text x="0" y="0" font-size="10" fill="#1a1a1a">HLA-DR+</text></g>
<path d="M374.5 519.35H390.4" stroke="#e8921a" stroke-width="1.1"/>
<path d="M382.40 515.83L385.37 519.35L382.40 522.87L379.43 519.35Z" fill="none" stroke="#e8921a" stroke-width="1.15"/>
<g transform="translate(394.2,522.70) scale(0.907,1)"><text x="0" y="0" font-size="10" fill="#1a1a1a">HLA-DR+CD38+</text></g>
<path d="M68.50 571.30V650.50H185.70" fill="none" stroke="#000" stroke-width="1.25"/>
<text x="60.90" y="653.80" font-size="10" text-anchor="end" fill="#1a1a1a">0</text>
<text x="60.90" y="638.64" font-size="10" text-anchor="end" fill="#1a1a1a">2</text>
<text x="60.90" y="623.48" font-size="10" text-anchor="end" fill="#1a1a1a">4</text>
<text x="60.90" y="608.32" font-size="10" text-anchor="end" fill="#1a1a1a">6</text>
<text x="60.90" y="593.16" font-size="10" text-anchor="end" fill="#1a1a1a">8</text>
<text x="60.90" y="578.00" font-size="10" text-anchor="end" fill="#1a1a1a">10</text>
<text x="68.30" y="666.30" font-size="10" text-anchor="middle" fill="#1a1a1a">0</text>
<text x="91.10" y="666.30" font-size="10" text-anchor="middle" fill="#1a1a1a">5</text>
<text x="113.90" y="666.30" font-size="10" text-anchor="middle" fill="#1a1a1a">10</text>
<text x="136.70" y="666.30" font-size="10" text-anchor="middle" fill="#1a1a1a">15</text>
<text x="159.50" y="666.30" font-size="10" text-anchor="middle" fill="#1a1a1a">20</text>
<text x="182.30" y="666.30" font-size="10" text-anchor="middle" fill="#1a1a1a">25</text>
<path d="M64.70 650.50H68.50M64.70 635.50H68.50M64.70 619.50H68.50M64.70 604.50H68.50M64.70 589.50H68.50M64.70 574.50H68.50M68.50 650.50V654.10M91.50 650.50V654.10M113.50 650.50V654.10M136.50 650.50V654.10M159.50 650.50V654.10M182.50 650.50V654.10" fill="none" stroke="#111" stroke-width="1.1"/>
<path d="M68.30 645.52L100.22 645.75L136.70 644.99L164.06 644.24" fill="none" stroke="#52a02e" stroke-width="1.25" stroke-linejoin="round"/>
<path d="M68.30 648.62L71.45 642.89L65.15 642.89Z" fill="none" stroke="#52a02e" stroke-width="1.3"/>
<path d="M100.22 648.85L103.37 643.12L97.07 643.12Z" fill="none" stroke="#52a02e" stroke-width="1.3"/>
<path d="M136.70 648.09L139.85 642.36L133.55 642.36Z" fill="none" stroke="#52a02e" stroke-width="1.3"/>
<path d="M164.06 647.34L167.21 641.60L160.91 641.60Z" fill="none" stroke="#52a02e" stroke-width="1.3"/>
<path d="M68.30 637.03L100.22 629.45L136.70 638.93L164.06 633.25" fill="none" stroke="#58a4e0" stroke-width="1.25" stroke-linejoin="round"/>
<path d="M68.30 633.93L71.45 639.67L65.15 639.67Z" fill="none" stroke="#58a4e0" stroke-width="1.3" stroke-linejoin="miter"/>
<path d="M100.22 626.35L103.37 632.09L97.07 632.09Z" fill="none" stroke="#58a4e0" stroke-width="1.3" stroke-linejoin="miter"/>
<path d="M136.70 635.83L139.85 641.56L133.55 641.56Z" fill="none" stroke="#58a4e0" stroke-width="1.3" stroke-linejoin="miter"/>
<path d="M164.06 630.14L167.21 635.88L160.91 635.88Z" fill="none" stroke="#58a4e0" stroke-width="1.3" stroke-linejoin="miter"/>
<path d="M68.30 643.25L100.22 640.75L136.70 641.96L164.06 645.52" fill="none" stroke="#b36d26" stroke-width="1.25" stroke-linejoin="round"/>
<rect x="65.30" y="640.25" width="6.00" height="6.00" fill="none" stroke="#b36d26" stroke-width="1.3"/>
<rect x="97.22" y="637.75" width="6.00" height="6.00" fill="none" stroke="#b36d26" stroke-width="1.3"/>
<rect x="133.70" y="638.96" width="6.00" height="6.00" fill="none" stroke="#b36d26" stroke-width="1.3"/>
<rect x="161.06" y="642.52" width="6.00" height="6.00" fill="none" stroke="#b36d26" stroke-width="1.3"/>
<path d="M68.30 644.46L100.22 643.25L136.70 641.73L164.06 643.71" fill="none" stroke="#1d3b7c" stroke-width="1.25" stroke-linejoin="round"/>
<circle cx="68.30" cy="644.46" r="3.00" fill="none" stroke="#1d3b7c" stroke-width="1.3"/>
<circle cx="100.22" cy="643.25" r="3.00" fill="none" stroke="#1d3b7c" stroke-width="1.3"/>
<circle cx="136.70" cy="641.73" r="3.00" fill="none" stroke="#1d3b7c" stroke-width="1.3"/>
<circle cx="164.06" cy="643.71" r="3.00" fill="none" stroke="#1d3b7c" stroke-width="1.3"/>
<text transform="translate(43.20,611.00) rotate(-90) scale(0.7516,1)" x="0" y="0" font-size="10.6" text-anchor="middle" stroke="#1a1a1a" stroke-width="0.3" fill="#1a1a1a">% of CD3<tspan dy="-3.6" font-size="8">+</tspan><tspan dy="3.6">CD4</tspan><tspan dy="-3.6" font-size="8">+</tspan><tspan dy="3.6"> T cells</tspan></text>
<path d="M244.50 571.00V650.50H361.50" fill="none" stroke="#000" stroke-width="1.25"/>
<text x="236.70" y="653.90" font-size="10" text-anchor="end" fill="#1a1a1a">0</text>
<text x="236.70" y="638.66" font-size="10" text-anchor="end" fill="#1a1a1a">2</text>
<text x="236.70" y="623.42" font-size="10" text-anchor="end" fill="#1a1a1a">4</text>
<text x="236.70" y="608.18" font-size="10" text-anchor="end" fill="#1a1a1a">6</text>
<text x="236.70" y="592.94" font-size="10" text-anchor="end" fill="#1a1a1a">8</text>
<text x="236.70" y="577.70" font-size="10" text-anchor="end" fill="#1a1a1a">10</text>
<text x="244.10" y="666.40" font-size="10" text-anchor="middle" fill="#1a1a1a">0</text>
<text x="266.90" y="666.40" font-size="10" text-anchor="middle" fill="#1a1a1a">5</text>
<text x="289.70" y="666.40" font-size="10" text-anchor="middle" fill="#1a1a1a">10</text>
<text x="312.50" y="666.40" font-size="10" text-anchor="middle" fill="#1a1a1a">15</text>
<text x="335.30" y="666.40" font-size="10" text-anchor="middle" fill="#1a1a1a">20</text>
<text x="358.10" y="666.40" font-size="10" text-anchor="middle" fill="#1a1a1a">25</text>
<path d="M240.50 650.50H244.50M240.50 635.50H244.50M240.50 619.50H244.50M240.50 604.50H244.50M240.50 589.50H244.50M240.50 574.50H244.50M244.50 650.50V654.10M266.50 650.50V654.10M289.50 650.50V654.10M312.50 650.50V654.10M335.50 650.50V654.10M358.50 650.50V654.10" fill="none" stroke="#111" stroke-width="1.1"/>
<path d="M244.10 631.35L276.02 625.25L312.50 628.30L339.86 623.73" fill="none" stroke="#52a02e" stroke-width="1.25" stroke-linejoin="round"/>
<path d="M244.10 634.45L247.25 628.72L240.95 628.72Z" fill="none" stroke="#52a02e" stroke-width="1.3"/>
<path d="M276.02 628.35L279.17 622.62L272.87 622.62Z" fill="none" stroke="#52a02e" stroke-width="1.3"/>
<path d="M312.50 631.40L315.65 625.67L309.35 625.67Z" fill="none" stroke="#52a02e" stroke-width="1.3"/>
<path d="M339.86 626.83L343.01 621.10L336.71 621.10Z" fill="none" stroke="#52a02e" stroke-width="1.3"/>
<path d="M244.10 643.92L276.02 631.35L312.50 642.78L339.86 641.26" fill="none" stroke="#58a4e0" stroke-width="1.25" stroke-linejoin="round"/>
<path d="M244.10 640.82L247.25 646.56L240.95 646.56Z" fill="none" stroke="#58a4e0" stroke-width="1.3" stroke-linejoin="miter"/>
<path d="M276.02 628.25L279.17 633.99L272.87 633.99Z" fill="none" stroke="#58a4e0" stroke-width="1.3" stroke-linejoin="miter"/>
<path d="M312.50 639.68L315.65 645.41L309.35 645.41Z" fill="none" stroke="#58a4e0" stroke-width="1.3" stroke-linejoin="miter"/>
<path d="M339.86 638.16L343.01 643.89L336.71 643.89Z" fill="none" stroke="#58a4e0" stroke-width="1.3" stroke-linejoin="miter"/>
<path d="M244.10 644.30L276.02 646.59L312.50 644.68L339.86 647.35" fill="none" stroke="#b36d26" stroke-width="1.25" stroke-linejoin="round"/>
<rect x="241.10" y="641.30" width="6.00" height="6.00" fill="none" stroke="#b36d26" stroke-width="1.3"/>
<rect x="273.02" y="643.59" width="6.00" height="6.00" fill="none" stroke="#b36d26" stroke-width="1.3"/>
<rect x="309.50" y="641.68" width="6.00" height="6.00" fill="none" stroke="#b36d26" stroke-width="1.3"/>
<rect x="336.86" y="644.35" width="6.00" height="6.00" fill="none" stroke="#b36d26" stroke-width="1.3"/>
<path d="M244.10 648.88L276.02 649.64L312.50 649.26L339.86 648.11" fill="none" stroke="#1d3b7c" stroke-width="1.25" stroke-linejoin="round"/>
<circle cx="244.10" cy="648.88" r="3.00" fill="none" stroke="#1d3b7c" stroke-width="1.3"/>
<circle cx="276.02" cy="649.64" r="3.00" fill="none" stroke="#1d3b7c" stroke-width="1.3"/>
<circle cx="312.50" cy="649.26" r="3.00" fill="none" stroke="#1d3b7c" stroke-width="1.3"/>
<circle cx="339.86" cy="648.11" r="3.00" fill="none" stroke="#1d3b7c" stroke-width="1.3"/>
<text transform="translate(219.20,611.00) rotate(-90) scale(0.7516,1)" x="0" y="0" font-size="10.6" text-anchor="middle" stroke="#1a1a1a" stroke-width="0.3" fill="#1a1a1a">% of CD3<tspan dy="-3.6" font-size="8">+</tspan><tspan dy="3.6">CD8</tspan><tspan dy="-3.6" font-size="8">+</tspan><tspan dy="3.6"> T cells</tspan></text>
<path d="M374.5 591.00H390.4" stroke="#1d3b7c" stroke-width="1.1"/>
<circle cx="382.40" cy="591.00" r="3.30" fill="none" stroke="#1d3b7c" stroke-width="1.15"/>
<g transform="translate(394.2,594.35) scale(0.907,1)"><text x="0" y="0" font-size="10" fill="#1a1a1a">CD152+ (CTLA4)</text></g>
<path d="M374.5 604.45H390.4" stroke="#b36d26" stroke-width="1.1"/>
<rect x="379.10" y="601.15" width="6.60" height="6.60" fill="none" stroke="#b36d26" stroke-width="1.15"/>
<g transform="translate(394.2,607.80) scale(0.907,1)"><text x="0" y="0" font-size="10" fill="#1a1a1a">CD223+ (Lag3)</text></g>
<path d="M374.5 617.90H390.4" stroke="#58a4e0" stroke-width="1.1"/>
<path d="M382.40 614.49L385.86 620.80L378.94 620.80Z" fill="none" stroke="#58a4e0" stroke-width="1.15" stroke-linejoin="miter"/>
<g transform="translate(394.2,621.25) scale(0.907,1)"><text x="0" y="0" font-size="10" fill="#1a1a1a">CD279+ (PD1)</text></g>
<path d="M374.5 631.35H390.4" stroke="#52a02e" stroke-width="1.1"/>
<path d="M382.40 634.76L385.86 628.45L378.94 628.45Z" fill="none" stroke="#52a02e" stroke-width="1.15"/>
<g transform="translate(394.2,634.70) scale(0.907,1)"><text x="0" y="0" font-size="10" fill="#1a1a1a">CD366+ (Tim3)</text></g>
<path d="M68.50 699.90V779.50H185.70" fill="none" stroke="#000" stroke-width="1.25"/>
<text x="60.90" y="782.80" font-size="10" text-anchor="end" fill="#1a1a1a">0</text>
<text x="60.90" y="763.75" font-size="10" text-anchor="end" fill="#1a1a1a">10</text>
<text x="60.90" y="744.70" font-size="10" text-anchor="end" fill="#1a1a1a">20</text>
<text x="60.90" y="725.65" font-size="10" text-anchor="end" fill="#1a1a1a">30</text>
<text x="60.90" y="706.60" font-size="10" text-anchor="end" fill="#1a1a1a">40</text>
<text x="68.30" y="795.30" font-size="10" text-anchor="middle" fill="#1a1a1a">0</text>
<text x="91.10" y="795.30" font-size="10" text-anchor="middle" fill="#1a1a1a">5</text>
<text x="113.90" y="795.30" font-size="10" text-anchor="middle" fill="#1a1a1a">10</text>
<text x="136.70" y="795.30" font-size="10" text-anchor="middle" fill="#1a1a1a">15</text>
<text x="159.50" y="795.30" font-size="10" text-anchor="middle" fill="#1a1a1a">20</text>
<text x="182.30" y="795.30" font-size="10" text-anchor="middle" fill="#1a1a1a">25</text>
<path d="M64.70 779.50H68.50M64.70 760.50H68.50M64.70 741.50H68.50M64.70 722.50H68.50M64.70 703.50H68.50M68.50 779.50V783.10M91.50 779.50V783.10M113.50 779.50V783.10M136.50 779.50V783.10M159.50 779.50V783.10M182.50 779.50V783.10" fill="none" stroke="#111" stroke-width="1.1"/>
<path d="M68.30 773.01L100.22 768.06L136.70 769.97L164.06 768.63" fill="none" stroke="#e8921a" stroke-width="1.25" stroke-linejoin="round"/>
<path d="M68.30 776.11L71.45 770.38L65.15 770.38Z" fill="none" stroke="#e8921a" stroke-width="1.3"/>
<path d="M100.22 771.16L103.37 765.43L97.07 765.43Z" fill="none" stroke="#e8921a" stroke-width="1.3"/>
<path d="M136.70 773.07L139.85 767.33L133.55 767.33Z" fill="none" stroke="#e8921a" stroke-width="1.3"/>
<path d="M164.06 771.73L167.21 766.00L160.91 766.00Z" fill="none" stroke="#e8921a" stroke-width="1.3"/>
<path d="M68.30 778.92L100.22 778.92L136.70 778.92L164.06 778.92" fill="none" stroke="#b36d26" stroke-width="1.25" stroke-linejoin="round"/>
<rect x="65.30" y="775.92" width="6.00" height="6.00" fill="none" stroke="#b36d26" stroke-width="1.3"/>
<rect x="97.22" y="775.92" width="6.00" height="6.00" fill="none" stroke="#b36d26" stroke-width="1.3"/>
<rect x="133.70" y="775.92" width="6.00" height="6.00" fill="none" stroke="#b36d26" stroke-width="1.3"/>
<rect x="161.06" y="775.92" width="6.00" height="6.00" fill="none" stroke="#b36d26" stroke-width="1.3"/>
<path d="M68.30 778.92L100.22 778.92L136.70 778.92L164.06 778.92" fill="none" stroke="#7f72bf" stroke-width="1.25" stroke-linejoin="round"/>
<path d="M68.30 775.82L71.45 781.55L65.15 781.55Z" fill="none" stroke="#7f72bf" stroke-width="1.3" stroke-linejoin="miter"/>
<path d="M100.22 775.82L103.37 781.55L97.07 781.55Z" fill="none" stroke="#7f72bf" stroke-width="1.3" stroke-linejoin="miter"/>
<path d="M136.70 775.82L139.85 781.55L133.55 781.55Z" fill="none" stroke="#7f72bf" stroke-width="1.3" stroke-linejoin="miter"/>
<path d="M164.06 775.82L167.21 781.55L160.91 781.55Z" fill="none" stroke="#7f72bf" stroke-width="1.3" stroke-linejoin="miter"/>
<path d="M68.30 778.92L100.22 778.92L136.70 778.92L164.06 778.92" fill="none" stroke="#1d3b7c" stroke-width="1.25" stroke-linejoin="round"/>
<circle cx="68.30" cy="778.92" r="3.00" fill="none" stroke="#1d3b7c" stroke-width="1.3"/>
<circle cx="100.22" cy="778.92" r="3.00" fill="none" stroke="#1d3b7c" stroke-width="1.3"/>
<circle cx="136.70" cy="778.92" r="3.00" fill="none" stroke="#1d3b7c" stroke-width="1.3"/>
<circle cx="164.06" cy="778.92" r="3.00" fill="none" stroke="#1d3b7c" stroke-width="1.3"/>
<text transform="translate(43.20,739.20) rotate(-90) scale(0.7516,1)" x="0" y="0" font-size="10.6" text-anchor="middle" stroke="#1a1a1a" stroke-width="0.3" fill="#1a1a1a">% of CD3<tspan dy="-3.6" font-size="8">+</tspan><tspan dy="3.6">CD4</tspan><tspan dy="-3.6" font-size="8">+</tspan><tspan dy="3.6"> T cells</tspan></text>
<path d="M244.50 699.90V779.50H361.50" fill="none" stroke="#000" stroke-width="1.25"/>
<text x="236.70" y="782.80" font-size="10" text-anchor="end" fill="#1a1a1a">0</text>
<text x="236.70" y="763.75" font-size="10" text-anchor="end" fill="#1a1a1a">10</text>
<text x="236.70" y="744.70" font-size="10" text-anchor="end" fill="#1a1a1a">20</text>
<text x="236.70" y="725.65" font-size="10" text-anchor="end" fill="#1a1a1a">30</text>
<text x="236.70" y="706.60" font-size="10" text-anchor="end" fill="#1a1a1a">40</text>
<text x="244.10" y="795.30" font-size="10" text-anchor="middle" fill="#1a1a1a">0</text>
<text x="266.90" y="795.30" font-size="10" text-anchor="middle" fill="#1a1a1a">5</text>
<text x="289.70" y="795.30" font-size="10" text-anchor="middle" fill="#1a1a1a">10</text>
<text x="312.50" y="795.30" font-size="10" text-anchor="middle" fill="#1a1a1a">15</text>
<text x="335.30" y="795.30" font-size="10" text-anchor="middle" fill="#1a1a1a">20</text>
<text x="358.10" y="795.30" font-size="10" text-anchor="middle" fill="#1a1a1a">25</text>
<path d="M240.50 779.50H244.50M240.50 760.50H244.50M240.50 741.50H244.50M240.50 722.50H244.50M240.50 703.50H244.50M244.50 779.50V783.10M266.50 779.50V783.10M289.50 779.50V783.10M312.50 779.50V783.10M335.50 779.50V783.10M358.50 779.50V783.10" fill="none" stroke="#111" stroke-width="1.1"/>
<path d="M244.10 777.39L276.02 759.49L312.50 772.06L339.86 773.58" fill="none" stroke="#7f72bf" stroke-width="1.25" stroke-linejoin="round"/>
<path d="M244.10 774.29L247.25 780.03L240.95 780.03Z" fill="none" stroke="#7f72bf" stroke-width="1.3" stroke-linejoin="miter"/>
<path d="M276.02 756.39L279.17 762.12L272.87 762.12Z" fill="none" stroke="#7f72bf" stroke-width="1.3" stroke-linejoin="miter"/>
<path d="M312.50 768.96L315.65 774.70L309.35 774.70Z" fill="none" stroke="#7f72bf" stroke-width="1.3" stroke-linejoin="miter"/>
<path d="M339.86 770.48L343.01 776.22L336.71 776.22Z" fill="none" stroke="#7f72bf" stroke-width="1.3" stroke-linejoin="miter"/>
<path d="M244.10 747.87L276.02 717.77L312.50 735.49L339.86 751.11" fill="none" stroke="#b36d26" stroke-width="1.25" stroke-linejoin="round"/>
<rect x="241.10" y="744.87" width="6.00" height="6.00" fill="none" stroke="#b36d26" stroke-width="1.3"/>
<rect x="273.02" y="714.77" width="6.00" height="6.00" fill="none" stroke="#b36d26" stroke-width="1.3"/>
<rect x="309.50" y="732.49" width="6.00" height="6.00" fill="none" stroke="#b36d26" stroke-width="1.3"/>
<rect x="336.86" y="748.11" width="6.00" height="6.00" fill="none" stroke="#b36d26" stroke-width="1.3"/>
<path d="M244.10 770.54L276.02 742.15L312.50 757.20L339.86 756.63" fill="none" stroke="#e8921a" stroke-width="1.25" stroke-linejoin="round"/>
<path d="M244.10 773.64L247.25 767.90L240.95 767.90Z" fill="none" stroke="#e8921a" stroke-width="1.3"/>
<path d="M276.02 745.25L279.17 739.52L272.87 739.52Z" fill="none" stroke="#e8921a" stroke-width="1.3"/>
<path d="M312.50 760.30L315.65 754.57L309.35 754.57Z" fill="none" stroke="#e8921a" stroke-width="1.3"/>
<path d="M339.86 759.73L343.01 754.00L336.71 754.00Z" fill="none" stroke="#e8921a" stroke-width="1.3"/>
<path d="M244.10 776.25L276.02 758.54L312.50 771.30L339.86 773.01" fill="none" stroke="#1d3b7c" stroke-width="1.25" stroke-linejoin="round"/>
<circle cx="244.10" cy="776.25" r="3.00" fill="none" stroke="#1d3b7c" stroke-width="1.3"/>
<circle cx="276.02" cy="758.54" r="3.00" fill="none" stroke="#1d3b7c" stroke-width="1.3"/>
<circle cx="312.50" cy="771.30" r="3.00" fill="none" stroke="#1d3b7c" stroke-width="1.3"/>
<circle cx="339.86" cy="773.01" r="3.00" fill="none" stroke="#1d3b7c" stroke-width="1.3"/>
<text transform="translate(219.20,739.20) rotate(-90) scale(0.7516,1)" x="0" y="0" font-size="10.6" text-anchor="middle" stroke="#1a1a1a" stroke-width="0.3" fill="#1a1a1a">% of CD3<tspan dy="-3.6" font-size="8">+</tspan><tspan dy="3.6">CD8</tspan><tspan dy="-3.6" font-size="8">+</tspan><tspan dy="3.6"> T cells</tspan></text>
<path d="M374.5 719.60H390.4" stroke="#1d3b7c" stroke-width="1.1"/>
<circle cx="382.40" cy="719.60" r="3.30" fill="none" stroke="#1d3b7c" stroke-width="1.15"/>
<g transform="translate(394.2,722.95) scale(0.907,1)"><text x="0" y="0" font-size="10" fill="#1a1a1a">Pfn+</text></g>
<path d="M374.5 733.05H390.4" stroke="#b36d26" stroke-width="1.1"/>
<rect x="379.10" y="729.75" width="6.60" height="6.60" fill="none" stroke="#b36d26" stroke-width="1.15"/>
<g transform="translate(394.2,736.40) scale(0.907,1)"><text x="0" y="0" font-size="10" fill="#1a1a1a">GzmB+</text></g>
<path d="M374.5 746.50H390.4" stroke="#7f72bf" stroke-width="1.1"/>
<path d="M382.40 743.09L385.86 749.40L378.94 749.40Z" fill="none" stroke="#7f72bf" stroke-width="1.15" stroke-linejoin="miter"/>
<g transform="translate(394.2,749.85) scale(0.907,1)"><text x="0" y="0" font-size="10" fill="#1a1a1a">Pfn+GzmB+</text></g>
<path d="M374.5 759.95H390.4" stroke="#e8921a" stroke-width="1.1"/>
<path d="M382.40 763.36L385.86 757.05L378.94 757.05Z" fill="none" stroke="#e8921a" stroke-width="1.15"/>
<g transform="translate(394.2,763.30) scale(0.907,1)"><text x="0" y="0" font-size="10" fill="#1a1a1a">KI67+</text></g>
<path d="M68.1 807.3H156.5M273 807.3H362" stroke="#000" stroke-width="1.3"/>
<rect x="35" y="189" width="7.7" height="3.7" fill="#8a8a8a"/>
<rect x="211" y="189.2" width="8" height="3.8" fill="#8a8a8a"/>
<rect x="211" y="701.8" width="8" height="3.8" fill="#8a8a8a"/>
<text x="161.50" y="810.60" font-size="11.2" textLength="107" lengthAdjust="spacingAndGlyphs" fill="#1a1a1a" stroke="#1a1a1a" stroke-width="0.3">Days after initiation of ALT-803</text>
</svg></body></html>
